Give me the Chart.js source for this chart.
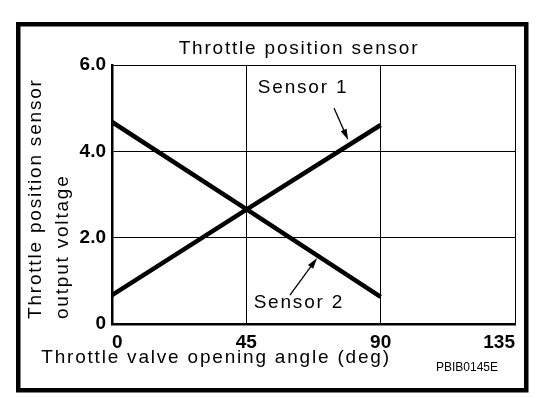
<!DOCTYPE html>
<html>
<head>
<meta charset="utf-8">
<script src="https://cdn.jsdelivr.net/npm/chart.js@4"></script>
<style>
  body { margin: 0; background: #fff; }
  canvas { display: block; }
</style>
</head>
<body>
<canvas id="myChart" width="544" height="398"></canvas>
<script>
// values
const angles = [0, 45, 90];
const sensor1 = [0.67, 2.65, 4.61];
const sensor2 = [4.68, 2.66, 0.63];
const xTicks = [0, 45, 90, 135];
const yTickLabels = { 0: '0', 2: '2.0', 4: '4.0', 6: '6.0' };

const chartTitle = 'Throttle position sensor';
const yTitle = ['Throttle position sensor', 'output voltage'];
const xTitle = 'Throttle valve opening angle (deg)';
const figCode = 'PBIB0145E';

// callouts in data units: label position, arrow start, arrow tip
const callouts = [
  { text: 'Sensor 1', at: [64, 5.47], from: [74.4, 5.0], to: [79.1, 4.26] },
  { text: 'Sensor 2', at: [62.6, 0.49], from: [59.6, 0.67], to: [68.7, 1.53] },
];

const FONT = '"Liberation Sans", Arial, sans-serif';

const decorations = {
  id: 'decorations',
  beforeDraw(chart) {
    const ctx = chart.ctx;
    ctx.save();
    ctx.fillStyle = '#fff';
    ctx.fillRect(0, 0, chart.width, chart.height);
    ctx.restore();
  },
  afterDraw(chart) {
    const ctx = chart.ctx;
    const xs = chart.scales.x, ys = chart.scales.y;
    ctx.save();
    ctx.fillStyle = '#000';
    ctx.strokeStyle = '#000';

    // outer frame
    ctx.lineWidth = 4.5;
    ctx.strokeRect(18.25, 24.25, 508, 366);

    ctx.font = '19px ' + FONT;
    ctx.letterSpacing = '1.8px';
    ctx.textBaseline = 'middle';

    ctx.textAlign = 'center';
    ctx.fillText(chartTitle, 299, 49);
    ctx.fillText(xTitle, 216, 358);

    // y axis title, two lines, rotated
    ctx.save();
    ctx.translate(36, 319);
    ctx.rotate(-Math.PI / 2);
    ctx.textAlign = 'left';
    ctx.fillText(yTitle[0], 0, 0);
    ctx.fillText(yTitle[1], 0, 27);
    ctx.restore();

    // callout labels + arrows
    ctx.textAlign = 'center';
    callouts.forEach(c => {
      ctx.fillText(c.text, xs.getPixelForValue(c.at[0]), ys.getPixelForValue(c.at[1]));
      const x1 = xs.getPixelForValue(c.from[0]), y1 = ys.getPixelForValue(c.from[1]);
      const x2 = xs.getPixelForValue(c.to[0]), y2 = ys.getPixelForValue(c.to[1]);
      const a = Math.atan2(y2 - y1, x2 - x1);
      ctx.lineWidth = 1.3;
      ctx.beginPath();
      ctx.moveTo(x1, y1);
      ctx.lineTo(x2 - 6 * Math.cos(a), y2 - 6 * Math.sin(a));
      ctx.stroke();
      ctx.beginPath();
      ctx.moveTo(x2, y2);
      ctx.lineTo(x2 - 11 * Math.cos(a) + 3.2 * Math.sin(a), y2 - 11 * Math.sin(a) - 3.2 * Math.cos(a));
      ctx.lineTo(x2 - 11 * Math.cos(a) - 3.2 * Math.sin(a), y2 - 11 * Math.sin(a) + 3.2 * Math.cos(a));
      ctx.closePath();
      ctx.fill();
    });

    ctx.letterSpacing = '0px';
    ctx.font = '12px ' + FONT;
    ctx.fillText(figCode, 467, 368);
    ctx.restore();
  }
};

new Chart(document.getElementById('myChart').getContext('2d'), {
  type: 'line',
  data: {
    datasets: [
      { label: 'Sensor 1', data: angles.map((a, i) => ({ x: a, y: sensor1[i] })) },
      { label: 'Sensor 2', data: angles.map((a, i) => ({ x: a, y: sensor2[i] })) },
    ],
  },
  options: {
    responsive: false,
    animation: false,
    events: [],
    layout: { padding: { top: 65, right: 29, left: 0, bottom: 0 } },
    elements: {
      line: { borderColor: '#000', borderWidth: 4.5, tension: 0, borderCapStyle: 'butt' },
      point: { radius: 0 },
    },
    plugins: { legend: { display: false }, title: { display: false }, tooltip: { enabled: false } },
    scales: {
      x: {
        type: 'linear',
        min: 0,
        max: 135,
        afterFit: s => { s.height = 74; },
        afterBuildTicks: s => { s.ticks = xTicks.map(v => ({ value: v })); },
        grid: { color: '#000', lineWidth: 1, drawTicks: false },
        border: { color: '#000', width: 2.5 },
        ticks: {
          color: '#000',
          padding: 7,
          align: 'inner',
          maxRotation: 0,
          font: { family: FONT, size: 19, weight: 'bold' },
        },
      },
      y: {
        min: 0,
        max: 6,
        afterFit: s => { s.width = 112; },
        grid: { color: '#000', lineWidth: 1, drawTicks: false },
        border: { color: '#000', width: 2.5 },
        ticks: {
          stepSize: 2,
          color: '#000',
          padding: 6,
          font: { family: FONT, size: 19, weight: 'bold' },
          callback: v => yTickLabels[v],
        },
      },
    },
  },
  plugins: [decorations],
});
</script>
</body>
</html>
